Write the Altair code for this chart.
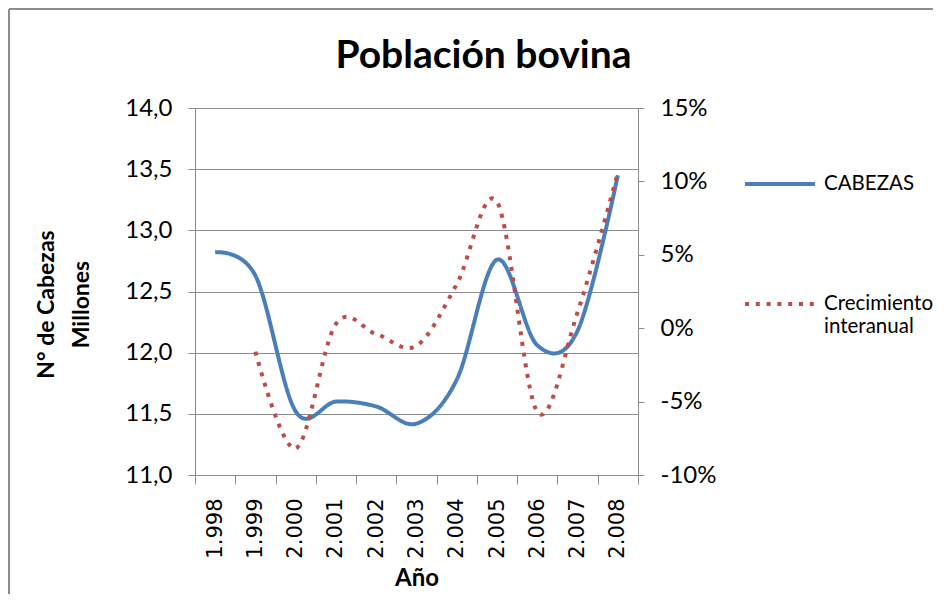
import altair as alt
import pandas as pd

years = ["1.998", "1.999", "2.000", "2.001", "2.002", "2.003",
         "2.004", "2.005", "2.006", "2.007", "2.008"]
cabezas = [12.82, 12.63, 11.52, 11.60, 11.56, 11.42, 11.78, 12.76, 12.06, 12.18, 13.45]
crecimiento = [None, -1.6, -8.2, 0.3, -0.4, -1.2, 3.0, 8.6, -5.7, 1.1, 10.6]
series = ["CABEZAS", "Crecimiento interanual"]
left_ticks = [11.0, 11.5, 12.0, 12.5, 13.0, 13.5, 14.0]
right_ticks = [-10, -5, 0, 5, 10, 15]

df_c = pd.DataFrame({"Año": years, "valor": cabezas, "serie": series[0]})
df_g = pd.DataFrame({"Año": years[1:], "valor": crecimiento[1:], "serie": series[1]})

FONT = "Lato"
GRAY = "#8c8c8c"

x_enc = alt.X(
    "Año:N", sort=years, bandPosition=0.5,
    scale=alt.Scale(type="band", paddingInner=0, paddingOuter=0),
    axis=alt.Axis(title="Año", labelAngle=-90, tickBand="extent",
                  labelFont="DejaVu Sans", labelFontSize=21, labelColor="#000",
                  tickSize=9, tickColor=GRAY, domainColor=GRAY, labelPadding=14,
                  titleFont=FONT, titleFontSize=24, titleFontWeight="bold",
                  titleColor="#000", titlePadding=8, grid=False),
)

legend = alt.Legend(
    orient="none", legendX=548, legendY=39, symbolType="stroke", symbolSize=4900,
    symbolStrokeWidth=4, labelFont=FONT, labelFontSize=20.5, labelColor="#000",
    labelExpr="datum.label == 'Crecimiento interanual' ? ['Crecimiento', 'interanual'] : datum.label",
    rowPadding=72, labelOffset=7,
)
color = alt.Color("serie:N", title=None,
                  scale=alt.Scale(domain=series, range=["#4a7ebb", "#be4b48"]),
                  legend=legend)
dash = alt.StrokeDash("serie:N", title=None,
                      scale=alt.Scale(domain=series, range=[[1, 0], [4, 6.8]]),
                      legend=legend)

blue = alt.Chart(df_c).mark_line(interpolate="cardinal", strokeWidth=4).encode(
    x=x_enc,
    y=alt.Y("valor:Q", scale=alt.Scale(domain=[11, 14], nice=False, zero=False),
            axis=alt.Axis(values=left_ticks,
                          labelExpr="replace(format(datum.value, '.1f'), '.', ',')",
                          title=["N° de Cabezas", "Millones"], titleFont=FONT,
                          titleFontSize=23, titleFontWeight="bold", titleColor="#000",
                          titleLineHeight=35, titlePadding=31, titleY=196,
                          labelFont=FONT, labelFontSize=24, labelColor="#000",
                          labelPadding=16, tickSize=7, tickColor=GRAY,
                          domainColor=GRAY, gridColor=GRAY, grid=True)),
    color=color, strokeDash=dash,
)

red = alt.Chart(df_g).mark_line(interpolate="cardinal", strokeWidth=4, strokeCap="butt").encode(
    x=x_enc,
    y=alt.Y("valor:Q", scale=alt.Scale(domain=[-10, 15], nice=False, zero=False),
            axis=alt.Axis(orient="right", values=right_ticks,
                          labelExpr="datum.value + '%'", title=None,
                          labelFont=FONT, labelFontSize=24, labelColor="#000",
                          labelPadding=16, tickSize=6, tickColor=GRAY,
                          domainColor=GRAY, grid=False)),
    color=color, strokeDash=dash,
)

frame_data = alt.Data(values=[{"k": 1}])
frame_top = alt.Chart(frame_data).mark_rule(color=GRAY, strokeWidth=2).encode(
    x=alt.value(-186), x2=alt.value(760), y=alt.value(-99))
frame_left = alt.Chart(frame_data).mark_rule(color=GRAY, strokeWidth=2).encode(
    x=alt.value(-186), y=alt.value(-99), y2=alt.value(500))

chart = alt.layer(blue, red, frame_top, frame_left).resolve_scale(
    y="independent"
).properties(
    width=443, height=367,
    autosize=alt.AutoSizeParams(type="none"),
    padding={"left": 187, "top": 100, "right": 295, "bottom": 119},
    title=alt.TitleParams("Población bovina", font=FONT, fontSize=39,
                          fontWeight="bold", color="#000", anchor="middle",
                          dx=67, offset=-99, baseline="alphabetic"),
).configure_view(stroke="transparent").configure(background="white")

chart.save("out.html", embed_options={"renderer": "svg", "actions": False})
